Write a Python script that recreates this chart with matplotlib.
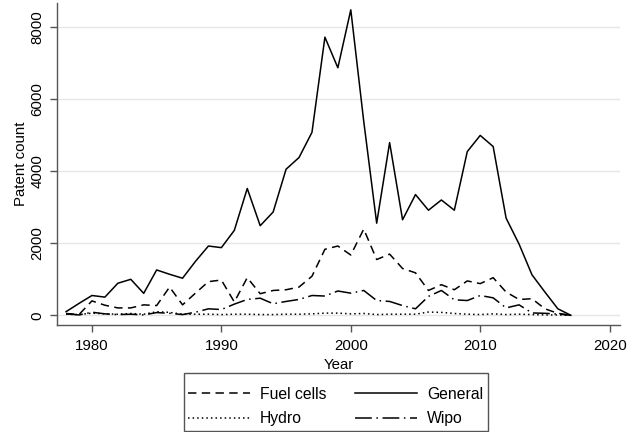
import matplotlib
matplotlib.use("Agg")
import matplotlib.pyplot as plt
from matplotlib.patches import Rectangle

years = list(range(1978, 2018))

general = [100, 330, 550, 505, 890, 1000, 610, 1260, 1140, 1030,
           1500, 1925, 1880, 2360, 3525, 2490, 2870, 4060, 4385, 5085,
           7730, 6880, 8490, 5390, 2560, 4800, 2655, 3355, 2920, 3205,
           2920, 4550, 5000, 4690, 2700, 1980, 1125, 645, 180, 0]

fuel_cells = [50, 20, 400, 280, 205, 205, 290, 270, 785, 290,
              617, 935, 980, 370, 1045, 600, 690, 710, 785, 1085,
              1835, 1925, 1675, 2395, 1550, 1700, 1300, 1180, 690, 850,
              710, 955, 880, 1045, 645, 440, 460, 180, 55, 0]

wipo = [40, 10, 85, 40, 20, 30, 10, 75, 55, 20,
        85, 180, 160, 310, 440, 475, 320, 385, 440, 550,
        535, 675, 615, 690, 410, 385, 270, 180, 525, 690,
        430, 410, 550, 485, 205, 290, 65, 55, 35, 0]

hydro = [30, 20, 60, 40, 30, 50, 30, 100, 80, 30,
         30, 30, 20, 30, 30, 20, 20, 30, 30, 40,
         60, 60, 40, 50, 20, 30, 30, 30, 90, 80,
         50, 30, 20, 40, 20, 30, 20, 10, 10, 0]

x_ticks = [1980, 1990, 2000, 2010, 2020]
y_ticks = [0, 2000, 4000, 6000, 8000]

plt.rcParams['font.family'] = ['Liberation Sans', 'DejaVu Sans']

W, H = 641, 432
fig = plt.figure(figsize=(6.41, 4.32), dpi=100)
ax = fig.add_axes([57 / W, 1 - 325 / H, (620 - 57) / W, (325 - 3) / H])

lw = 1.1
l_fuel, = ax.plot(years, fuel_cells, color='black', lw=lw, dashes=(5.5, 3.5), label='Fuel cells')
l_gen, = ax.plot(years, general, color='black', lw=lw, label='General')
l_hydro, = ax.plot(years, hydro, color='black', lw=lw, dashes=(1, 2), label='Hydro')
l_wipo, = ax.plot(years, wipo, color='black', lw=lw, dashes=(11, 3, 1, 3), label='Wipo')

ax.set_xlim(1977.3, 2020.8)
ax.set_ylim(-270, 8680)
ax.set_xticks(x_ticks)
ax.set_yticks(y_ticks)
ax.grid(axis='y', color='#e6e6e6', lw=1.0)
ax.set_axisbelow(True)

for side in ['top', 'right']:
    ax.spines[side].set_visible(False)
for side in ['left', 'bottom']:
    ax.spines[side].set_color('#555555')
    ax.spines[side].set_linewidth(1.0)

ax.tick_params(axis='both', colors='#555555', length=5, width=1.0, labelsize=10.8,
               labelcolor='black', pad=5)
ax.tick_params(axis='y', pad=4)
plt.setp(ax.get_yticklabels(), rotation=90, va='center')

ax.set_xlabel('Year', fontsize=10.8, labelpad=4)
ax.set_ylabel('Patent count', fontsize=10.8, labelpad=2)

# legend entries without frame, then a plain box drawn around them
leg = fig.legend(handles=[l_fuel, l_hydro, l_gen, l_wipo], ncol=2,
                 loc='center', bbox_to_anchor=(335.5 / W, 1 - 406.5 / H),
                 fontsize=11.3, frameon=False,
                 handlelength=3.95, handletextpad=0.64, columnspacing=1.85,
                 labelspacing=0.6, borderpad=0, borderaxespad=0)
fig.patches.append(Rectangle((184 / W, 1 - 431 / H), (488 - 184) / W, (431 - 373) / H,
                             transform=fig.transFigure, fill=False,
                             edgecolor='#555555', lw=1.0))

fig.savefig('out.png', dpi=100)
